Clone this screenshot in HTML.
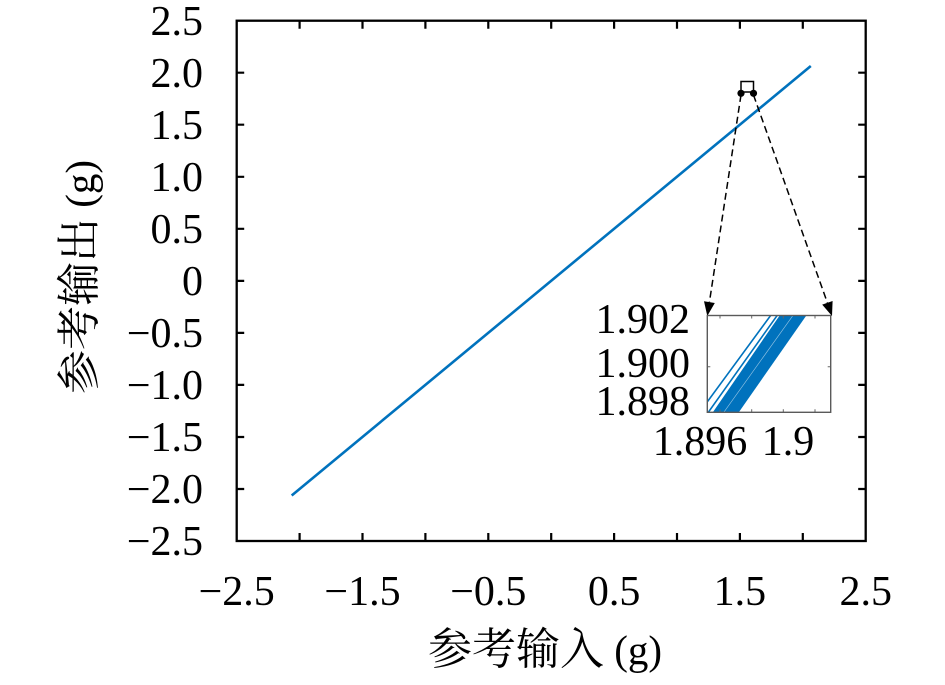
<!DOCTYPE html>
<html><head><meta charset="utf-8"><style>
html,body{margin:0;padding:0;background:#fff;}
svg{display:block;}
text{font-family:"Liberation Serif","Noto Serif CJK SC",serif;fill:#000;}
</style></head><body>
<svg width="945" height="685" viewBox="0 0 945 685" xmlns="http://www.w3.org/2000/svg">
<defs><clipPath id="ic"><rect x="707.3" y="315.5" width="123.4" height="96.8"/></clipPath></defs>
<rect width="945" height="685" fill="#fff"/>
<!-- main line -->
<line x1="291.7" y1="495.5" x2="810.8" y2="66" stroke="#0072BD" stroke-width="2.6"/>
<!-- axes box -->
<rect x="236.7" y="20.7" width="629" height="520.3" fill="none" stroke="#000" stroke-width="2.3"/>
<g stroke="#000" stroke-width="2.2">
<path d="M299.6 541v-8M362.5 541v-8M425.4 541v-8M488.3 541v-8M551.2 541v-8M614.1 541v-8M677 541v-8M739.9 541v-8M802.8 541v-8
M299.6 20.7v8M362.5 20.7v8M425.4 20.7v8M488.3 20.7v8M551.2 20.7v8M614.1 20.7v8M677 20.7v8M739.9 20.7v8M802.8 20.7v8"/>
<path d="M236.7 72.7h7.5M236.7 124.7h7.5M236.7 176.8h7.5M236.7 228.8h7.5M236.7 280.9h7.5M236.7 332.9h7.5M236.7 384.9h7.5M236.7 437h7.5M236.7 489h7.5
M865.7 72.7h-7.5M865.7 124.7h-7.5M865.7 176.8h-7.5M865.7 228.8h-7.5M865.7 280.9h-7.5M865.7 332.9h-7.5M865.7 384.9h-7.5M865.7 437h-7.5M865.7 489h-7.5"/>
</g>
<!-- y tick labels -->
<g font-size="42" text-anchor="end">
<text x="203" y="35">2.5</text>
<text x="203" y="87">2.0</text>
<text x="203" y="139">1.5</text>
<text x="203" y="191">1.0</text>
<text x="203" y="243">0.5</text>
<text x="203" y="295">0</text>
<text x="203" y="347">−0.5</text>
<text x="203" y="399">−1.0</text>
<text x="203" y="451">−1.5</text>
<text x="203" y="503">−2.0</text>
<text x="203" y="555">−2.5</text>
</g>
<!-- x tick labels -->
<g font-size="42" text-anchor="middle">
<text x="236.7" y="605">−2.5</text>
<text x="362.5" y="605">−1.5</text>
<text x="488.3" y="605">−0.5</text>
<text x="614.1" y="605">0.5</text>
<text x="739.9" y="605">1.5</text>
<text x="865.7" y="605">2.5</text>
</g>
<!-- axis titles -->
<text x="428" y="664"><tspan font-size="44">参考输入</tspan><tspan font-size="41"> (g)</tspan></text>
<text transform="translate(94,277) rotate(-90)" text-anchor="middle"><tspan font-size="44">参考输出</tspan><tspan font-size="41"> (g)</tspan></text>
<!-- zoom marker -->
<rect x="741" y="81.5" width="12.5" height="10.5" fill="#fff" stroke="#000" stroke-width="1.5"/>
<circle cx="741" cy="93.3" r="3.6" fill="#000"/>
<circle cx="753.5" cy="93.3" r="3.6" fill="#000"/>
<g stroke="#000" stroke-width="1.5" stroke-dasharray="7 4" fill="none">
<line x1="741" y1="95" x2="709.4" y2="302.2"/>
<line x1="753.5" y1="95" x2="827.4" y2="302.8"/>
</g>
<polygon points="707.3,316 714.8,303 704,301.3" fill="#000"/>
<polygon points="832,316 832.6,301 822.2,304.6" fill="#000"/>
<!-- inset -->
<rect x="707.3" y="315.5" width="123.4" height="96.8" fill="#fff"/>
<g clip-path="url(#ic)">
<polygon points="712.3,413 738.3,413 806.7,315 780,315" fill="#0072BD"/>
<line x1="706.8" y1="402.5" x2="771" y2="315" stroke="#0072BD" stroke-width="1.6"/>
<line x1="707.8" y1="413" x2="777.5" y2="315" stroke="#0072BD" stroke-width="1.6"/>
<line x1="723.3" y1="413" x2="793.3" y2="315" stroke="#fff" stroke-width="0.6" stroke-opacity="0.6"/>
</g>
<g stroke="#666" stroke-width="1">
<path d="M720 412.3v-3M751.7 412.3v-3M783.3 412.3v-3M815 412.3v-3M720 315.5v3M751.7 315.5v3M783.3 315.5v3M815 315.5v3M707.3 366.7h3M830.7 366.7h-3"/>
</g>
<rect x="707.3" y="315.5" width="123.4" height="96.8" fill="none" stroke="#5a5a5a" stroke-width="1.4"/>
<g font-size="42" text-anchor="end">
<text x="690" y="333">1.902</text>
<text x="690" y="377">1.900</text>
<text x="690" y="415">1.898</text>
</g>
<g font-size="42" text-anchor="middle">
<text x="700" y="455">1.896</text>
<text x="788" y="455">1.9</text>
</g>
</svg>
</body></html>
